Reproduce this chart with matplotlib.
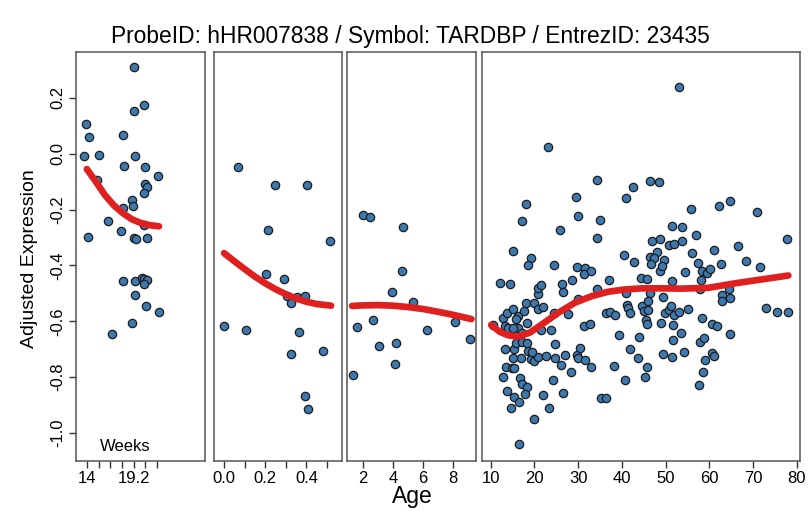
import numpy as np
import matplotlib
matplotlib.use('Agg')
import matplotlib.pyplot as plt

plt.rcParams['font.family'] = ['Liberation Sans', 'DejaVu Sans']

# fetal (weeks)
p1_age = [19.2, 20.3, 19.2, 13.9, 14.2, 18.0, 13.7, 15.3, 19.3, 18.1, 20.5, 21.9,
          15.1, 20.5, 20.7, 20.3, 19.0, 19.1, 18.0, 16.4, 20.3, 17.8, 14.1, 19.2,
          19.4, 20.7, 18.0, 19.3, 20.1, 20.3, 20.7, 20.3, 19.3, 20.6, 22.0, 19.0, 16.8]
p1_expr = [0.312, 0.174, 0.154, 0.107, 0.061, 0.067, -0.007, -0.004, -0.007, -0.044,
           -0.049, -0.081, -0.095, -0.107, -0.12, -0.14, -0.167, -0.188, -0.194, -0.24,
           -0.257, -0.277, -0.299, -0.301, -0.305, -0.302, -0.456, -0.454, -0.444,
           -0.448, -0.452, -0.468, -0.506, -0.545, -0.568, -0.607, -0.645]
p1_fit_x = [14.0, 15.0, 16.0, 17.0, 18.0, 19.0, 20.0, 21.0, 22.0]
p1_fit_y = [-0.055, -0.10, -0.148, -0.185, -0.213, -0.235, -0.248, -0.256, -0.260]

# infants (years)
p2_age = [0.066, 0.249, 0.401, 0.215, 0.516, 0.202, 0.29, 0.304, 0.325, 0.353,
          0.392, 0.001, 0.108, 0.363, 0.325, 0.482, 0.392, 0.406]
p2_expr = [-0.049, -0.111, -0.113, -0.273, -0.313, -0.431, -0.449, -0.51, -0.533,
           -0.513, -0.508, -0.618, -0.632, -0.637, -0.718, -0.708, -0.869, -0.913]
p2_fit_x = [0.0, 0.05, 0.1, 0.15, 0.2, 0.25, 0.3, 0.35, 0.4, 0.45, 0.52]
p2_fit_y = [-0.356, -0.385, -0.413, -0.44, -0.464, -0.485, -0.503, -0.518, -0.53,
            -0.538, -0.544]

# children (years)
p3_age = [2.02, 2.5, 4.69, 4.6, 3.94, 5.31, 2.68, 1.64, 6.28, 8.13, 9.1, 3.06, 4.21,
          4.14, 1.34]
p3_expr = [-0.218, -0.227, -0.264, -0.419, -0.496, -0.531, -0.594, -0.62, -0.632,
           -0.604, -0.665, -0.69, -0.679, -0.754, -0.792]
p3_fit_x = [1.3, 2, 3, 4, 5, 6, 7, 8, 9.2]
p3_fit_y = [-0.545, -0.543, -0.542, -0.544, -0.549, -0.556, -0.566, -0.577, -0.592]

# adults (years)
p4_age = [53.1, 23.0, 34.2, 42.6, 46.4, 48.4, 18.0, 29.4, 40.9, 64.8, 62.2, 55.9, 70.9,
          17.2, 29.9, 35.1, 25.8, 51.5, 53.8, 34.3, 57.0, 77.7, 46.8, 48.8, 50.9, 51.9,
          53.8, 66.6, 61.0, 56.0, 15.1, 19.2, 48.1, 46.5, 47.3, 40.5, 49.6, 68.4, 57.4,
          62.6, 24.5, 42.7, 18.5, 71.6, 46.7,
          29.8, 31.6, 31.4, 33.0, 48.8, 49.1, 54.5, 58.3, 59.4, 60.2, 12.2, 14.4, 20.7,
          20.9, 21.4, 26.4, 26.6, 28.5, 29.9, 34.3, 37.1, 44.3, 45.8, 46.5, 49.3, 51.4,
          57.9, 62.8, 63.0, 64.5, 64.7, 73.0, 75.4, 77.9, 10.6, 12.9, 13.3, 13.8, 14.0,
          15.2, 16.3, 17.6, 18.0, 18.4, 16.3, 15.2, 20.0, 20.9, 22.0, 24.5, 21.4, 23.9,
          27.6, 31.3, 32.6, 36.3, 37.4, 38.4, 41.1, 41.5, 41.9, 44.5, 45.1, 45.9, 45.9,
          45.5, 45.8, 48.9, 49.9, 50.9, 51.2, 51.9, 51.6, 53.1, 55.2, 58.3, 60.6, 61.8,
          64.7, 53.5, 51.6, 57.9, 58.8, 44.0, 39.4, 13.3, 15.4, 15.8, 17.1, 18.6, 18.2,
          24.6, 15.0, 16.9, 19.2, 19.8, 20.9, 22.6, 24.7, 26.1, 27.0, 29.7, 30.0, 30.4,
          31.6, 32.9, 28.3, 38.2, 41.9, 43.8, 45.7, 45.3, 40.7, 49.5, 51.4, 54.3, 59.0,
          60.6, 61.1, 58.5, 57.7, 12.7, 13.4, 14.8, 15.4, 16.7, 17.1, 18.4, 17.9, 13.7,
          15.3, 16.5, 14.6, 22.0, 23.3, 24.2, 26.6, 19.8, 16.5, 35.2, 36.4,
          15.8, 19.4, 17.1, 40.9, 58.0]
p4_expr = [0.239, 0.025, -0.093, -0.12, -0.099, -0.101, -0.181, -0.156, -0.16, -0.17,
           -0.188, -0.199, -0.207, -0.24, -0.223, -0.239, -0.273, -0.26, -0.264, -0.301,
           -0.292, -0.304, -0.314, -0.305, -0.327, -0.323, -0.314, -0.331, -0.345,
           -0.355, -0.35, -0.373, -0.351, -0.368, -0.374, -0.364, -0.382, -0.383,
           -0.392, -0.396, -0.398, -0.389, -0.399, -0.407, -0.396,
           -0.405, -0.408, -0.429, -0.42, -0.42, -0.402, -0.424, -0.42, -0.426, -0.414,
           -0.462, -0.468, -0.504, -0.48, -0.471, -0.466, -0.495, -0.452, -0.521,
           -0.486, -0.452, -0.444, -0.448, -0.5, -0.512, -0.456, -0.486, -0.507,
           -0.527, -0.486, -0.515, -0.551, -0.567, -0.567, -0.613, -0.587, -0.617,
           -0.569, -0.623, -0.557, -0.581, -0.563, -0.533, -0.607, -0.623, -0.623,
           -0.536, -0.557, -0.549, -0.569, -0.632, -0.631, -0.575, -0.617, -0.608,
           -0.569, -0.565, -0.577, -0.543, -0.551, -0.571, -0.545, -0.563, -0.56,
           -0.527, -0.596, -0.608, -0.605, -0.569, -0.561, -0.545, -0.579, -0.613,
           -0.565, -0.557, -0.589, -0.611, -0.617, -0.646, -0.643, -0.667, -0.674,
           -0.658, -0.656, -0.65, -0.70, -0.698, -0.676, -0.674, -0.706, -0.676,
           -0.682, -0.73, -0.73, -0.736, -0.742, -0.726, -0.724, -0.73, -0.757,
           -0.721, -0.721, -0.732, -0.694, -0.739, -0.763, -0.783, -0.76, -0.70,
           -0.733, -0.763, -0.798, -0.811, -0.716, -0.726, -0.71, -0.739, -0.714,
           -0.724, -0.78, -0.827, -0.801, -0.762, -0.766, -0.766, -0.804, -0.823,
           -0.835, -0.861, -0.851, -0.87, -0.888, -0.911, -0.863, -0.911, -0.811,
           -0.858, -0.951, -1.04, -0.873, -0.876,
           -0.59, -0.71, -0.643, -0.497, -0.452]
p4_fit_x = [10.1, 12.1, 14.0, 16.3, 19.0, 21.7, 25.5, 29.3, 33.1, 36.9, 40.7, 44.5,
            49.1, 53.7, 59.8, 65.9, 72.0, 78.1]
p4_fit_y = [-0.613, -0.638, -0.65, -0.655, -0.64, -0.611, -0.569, -0.533, -0.51,
            -0.494, -0.486, -0.482, -0.482, -0.483, -0.48, -0.464, -0.45, -0.436]

title = 'ProbeID: hHR007838 / Symbol: TARDBP / EntrezID: 23435'

W, H = 810, 511
fig = plt.figure(figsize=(W / 100, H / 100), dpi=100)

panels = [
    (76, 205, p1_age, p1_expr, p1_fit_x, p1_fit_y, (12.8, 27.1),
     [14 + 1.3 * k for k in range(7)], ['14', '', '', '', '19.2', '', '']),
    (214, 342, p2_age, p2_expr, p2_fit_x, p2_fit_y, (-0.049, 0.573),
     [0, 0.1, 0.2, 0.3, 0.4, 0.5], ['0.0', '', '0.2', '', '0.4', '']),
    (347, 476, p3_age, p3_expr, p3_fit_x, p3_fit_y, (0.96, 9.5),
     [2, 4, 6, 8], ['2', '4', '6', '8']),
    (482, 800, p4_age, p4_expr, p4_fit_x, p4_fit_y, (8.0, 80.76),
     list(range(10, 90, 10)), [str(v) for v in range(10, 90, 10)]),
]

top, bottom = 52, 461
for i, (x0, x1, xs, ys, fx, fy, xlim, ticks, labels) in enumerate(panels):
    ax = fig.add_axes([x0 / W, 1 - bottom / H, (x1 - x0) / W, (bottom - top) / H])
    ax.scatter(xs, ys, s=36, c='#3d78ae', edgecolors='#1c1c1c', linewidths=0.9, zorder=2)
    ax.plot(fx, fy, color='#e01f1f', lw=4.8, solid_capstyle='round', zorder=3)
    ax.set_xlim(*xlim)
    ax.set_ylim(-1.1, 0.364)
    ax.set_xticks(ticks)
    ax.set_xticklabels(labels)
    for sp in ax.spines.values():
        sp.set_color('#555555')
        sp.set_linewidth(1.1)
    ax.tick_params(axis='x', direction='out', length=5, width=1, color='#333333',
                   labelsize=12, pad=2.5)
    if i == 0:
        ax.set_yticks([-1.0, -0.8, -0.6, -0.4, -0.2, 0.0, 0.2])
        ax.set_yticklabels(['-1.0', '-0.8', '-0.6', '-0.4', '-0.2', '0.0', '0.2'],
                           rotation=90, va='center')
        ax.tick_params(axis='y', direction='out', length=5, width=1, color='#333333',
                       labelsize=12, pad=3)
        ax.text(18.3, -1.047, 'Weeks', ha='center', va='center', fontsize=12)
    else:
        ax.set_yticks([])

fig.text(410 / W, 1 - 43 / H, title, ha='center', va='baseline', fontsize=16.4)
fig.text(412 / W, 1 - 503 / H, 'Age', ha='center', va='baseline', fontsize=16.5)
fig.text(30 / W, 1 - 259 / H, 'Adjusted Expression', ha='center', va='center',
         rotation=90, fontsize=14)

fig.savefig('out.png', dpi=100, facecolor='white')
